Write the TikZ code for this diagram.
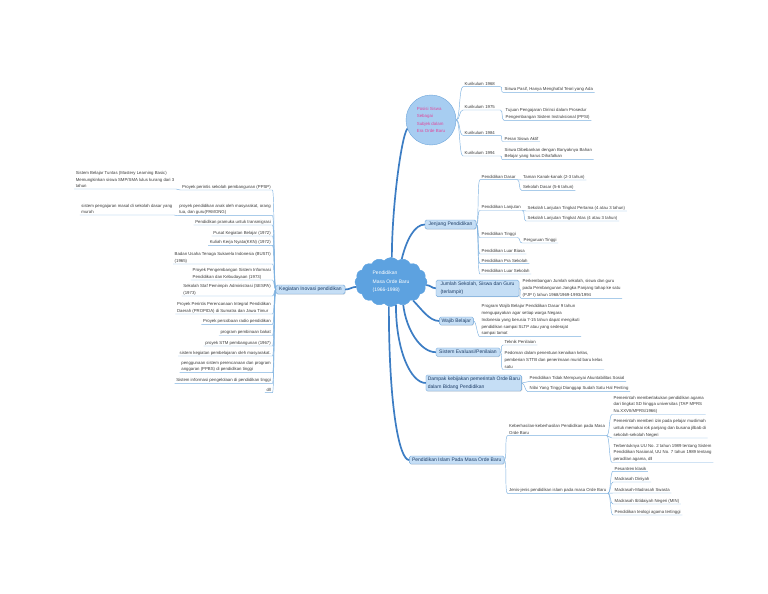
\documentclass[tikz,border=0pt]{standalone}
\usepackage{fontspec}
\setmainfont{Liberation Sans}
\usepackage{xcolor}
\definecolor{mainline}{HTML}{3C7DC4}
\definecolor{subline}{HTML}{7DB1E0}
\definecolor{boxfill}{HTML}{C5DEF5}
\definecolor{boxdraw}{HTML}{6FA6DA}
\definecolor{cloudfill}{HTML}{5DA2E0}
\definecolor{circfill}{HTML}{A7CDF1}
\definecolor{pinktext}{HTML}{E0489C}
\definecolor{leaftext}{HTML}{3A3A3A}
\definecolor{boxtext}{HTML}{1E3D66}
\usetikzlibrary{shapes.geometric,shapes.symbols,shadows}

\begin{document}
\begin{tikzpicture}[x=1pt, y=-1pt,
    every node/.style={font=\fontsize{4.3}{6.8}\selectfont},
    leaf/.style={text=leaftext, align=left, inner xsep=1.5pt, inner ysep=0.8pt},
    leafr/.style={leaf, anchor=south west},
    leafl/.style={leaf, anchor=south east},
    kurbox/.style={leafr, text width=34pt},
    topic/.style={draw=boxdraw, fill=boxfill, rounded corners=1.5pt, text=boxtext,
                  font=\fontsize{5}{7.7}\selectfont, inner sep=1pt,
                  drop shadow={opacity=0.25, shadow xshift=0.6pt, shadow yshift=-0.6pt}},
    mainc/.style={draw=mainline, line width=1.7pt},
    subc/.style={draw=subline, line width=0.45pt},
    linkr/.style={to path={.. controls +(#1,0) and +(-#1,0) .. (\tikztotarget)}},
    linkr/.default=3,
    linkl/.style={to path={.. controls +(-#1,0) and +(#1,0) .. (\tikztotarget)}},
    linkl/.default=2]
  \useasboundingbox (0,0) rectangle (768,594);
  \fill[white] (0,0) rectangle (768,594);

  \node[cloud, cloud puffs=16, cloud puff arc=100, aspect=1.5, fill=cloudfill, draw=cloudfill,
        minimum width=72pt, minimum height=49pt, inner sep=0pt, text=white, align=left,
        font=\fontsize{5}{8.3}\selectfont] (cloud) at (391,282) {Pendidikan\\Masa Orde Baru\\(1966-1998)};
  \node[circle, draw=boxdraw, fill=circfill, minimum size=50pt, inner sep=0pt, text=pinktext,
        align=left, font=\fontsize{4.4}{7.2}\selectfont] (posisi) at (431,120) {Posisi Siswa\\Sebagai\\Subjek dalam\\Era Orde Baru};

  \node[topic, minimum width=51pt, minimum height=9pt] (jenjang) at (450.5,224.5) {Jenjang Pendidikan};
  \node[topic, align=left, minimum width=83pt, minimum height=16.5pt] (jumlah) at (477.5,288.3) {Jumlah Sekolah, Siswa dan Guru\\(terlampir)};
  \node[topic, minimum width=34pt, minimum height=8pt] (wajib) at (456.3,321) {Wajib Belajar};
  \node[topic, minimum width=64pt, minimum height=8.5pt] (evaluasi) at (468,352.2) {Sistem Evaluasi/Penilaian};
  \node[topic, align=left, minimum width=95.7pt, minimum height=16pt] (dampak) at (473.8,383) {Dampak kebijakan pemerintah Orde Baru\\dalam Bidang Pendidikan};
  \node[topic, minimum width=94.7pt, minimum height=8pt] (islam) at (456.7,460) {Pendidikan Islam Pada Masa Orde Baru};
  \node[topic, minimum width=69pt, minimum height=9pt] (inovasi) at (310.5,289.5) {Kegiatan Inovasi pendidikan};

  \node[kurbox] (kur68) at (463,86.7) {Kurikulum 1968};
  \node[kurbox] (kur75) at (463,110) {Kurikulum 1975};
  \node[kurbox] (kur84) at (463,135.3) {Kurikulum 1984};
  \node[kurbox] (kur94) at (463,156) {Kurikulum 1994};
  \node[leafr] (k68a) at (503,92.3) {Siswa Pasif, Hanya Menghafal Teori yang Ada};
  \node[leafr] (k75a) at (504,120.3) {Tujuan Pengajaran Dirinci dalam Prosedur\\Pengembangan Sistem Instruksional (PPSI)};
  \node[leafr] (k84a) at (503,141.5) {Peran Siswa Aktif};
  \node[leafr] (k94a) at (503,159.7) {Siswa Dibebankan dengan Banyaknya Bahan\\Belajar yang harus Dihafalkan};

  \node[leafr] (pdasar) at (480,179.7) {Pendidikan Dasar};
  \node[leafr] (tk) at (521.5,180) {Taman Kanak-kanak (2-3 tahun)};
  \node[leafr] (sd) at (521.5,190.3) {Sekolah Dasar (5-6 tahun)};
  \node[leafr] (planjut) at (480,210.5) {Pendidikan Lanjutan};
  \node[leafr] (sltp) at (526,211) {Sekolah Lanjutan Tingkat Pertama (4 atau 3 tahun)};
  \node[leafr] (slta) at (526,221) {Sekolah Lanjutan Tingkat Atas (4 atau 3 tahun)};
  \node[leafr] (ptinggi) at (480,237.5) {Pendidikan Tinggi};
  \node[leafr] (pt) at (522,243) {Perguruan Tinggi};
  \node[leafr] (plb) at (480,254) {Pendidikan Luar Biasa};
  \node[leafr] (pps) at (480,263.7) {Pendidikan Pra Sekolah};
  \node[leafr] (pls) at (480,274) {Pendidikan Luar Sekolah};

  \node[leafr] (jumlaha) at (521,298.3) {Perkembangan Jumlah sekolah, siswa dan guru\\pada Pembangunan Jangka Panjang tahap ke satu\\(PJP I) tahun 1968/1969-1993/1994};
  \node[leafr] (wajiba) at (480,336.7) {Program Wajib Belajar Pendidikan Dasar 9 tahun\\mengupayakan agar setiap warga Negara\\Indonesia yang berusia 7-15 tahun dapat mengikuti\\pendidikan sampai SLTP atau yang sederajat\\sampai tamat};
  \node[leafr] (teknik) at (503,345) {Teknik Penilaian};
  \node[leafr] (pedoman) at (503,369.5) {Pedoman dalam penentuan kenaikan kelas,\\pemberian STTB dan penerimaan murid baru kelas\\satu};
  \node[leafr] (akunt) at (528,381.7) {Pendidikan Tidak Mempunyai Akuntabilitas Sosial};
  \node[leafr] (nilai) at (528,391.7) {Nilai Yang Tinggi Dianggap Sudah Satu Hal Penting};

  \node[leafr] (berhasil) at (507.5,435.7) {Keberhasilan-keberhasilan Pendidikan pada Masa\\Orde Baru};
  \node[leafr] (jenis) at (507.5,493.3) {Jenis-jenis pendidikan islam pada masa Orde Baru};
  \node[leafr] (b1) at (612,414.5) {Pemerintah memberlakukan pendidikan agama\\dari tingkat SD hingga universitas (TAP MPRS\\No.XXVII/MPRS/1966)};
  \node[leafr] (b2) at (612,438) {Pemerintah memberi izin pada pelajar muslimah\\untuk memakai rok panjang dan busana jilbab di\\sekolah-sekolah Negeri};
  \node[leafr] (b3) at (612,462.5) {Terbentuknya UU No. 2 tahun 1989 tentang Sistem\\Pendidikan Nasional, UU No. 7 tahun 1989 tentang\\peradilan agama, dll};
  \node[leafr] (j1) at (613,471.3) {Pesantren klasik};
  \node[leafr] (j2) at (613,482) {Madrasah Diniyah};
  \node[leafr] (j3) at (613,493) {Madrasah-Madrasah Swasta};
  \node[leafr] (j4) at (613,504) {Madrasah Ibtidaiyah Negeri (MIN)};
  \node[leafr] (j5) at (613,515) {Pendidikan teologi agama tertinggi};

  \node[leafl] (i1) at (272.5,190) {Proyek perintis sekolah pembangunan (PPSP)};
  \node[leafl] (i1a) at (176,189) {Sistem Belajar Tuntas (Mastery Learning Basic)\\Memungkinkan siswa SMP/SMA lulus kurang dari 3\\tahun};
  \node[leafl] (i2) at (272.5,215.7) {proyek pendidikan anak oleh masyarakat, orang\\tua, dan guru(PAMONG)};
  \node[leafl] (i2a) at (174,215) {sistem pengajaran masal di sekolah dasar yang\\murah};
  \node[leafl] (i3) at (272.5,225) {Pendidikan pramuka untuk transmigrasi};
  \node[leafl] (i4) at (272.5,236) {Pusat Kegiatan Belajar (1972)};
  \node[leafl] (i5) at (272.5,245.3) {Kuliah Kerja Nyata(KKN) (1972)};
  \node[leafl] (i6) at (272.5,264) {Badan Usaha Tenaga Sukarela Indonesia (BUSTI)\\(1965)};
  \node[leafl] (i7) at (272.5,280) {Proyek Pengembangan Sistem Informasi\\Pendidikan dan Kebudayaan (1973)};
  \node[leafl] (i8) at (272.5,296) {Sekolah Staf Pemimpin Administrasi (SESPA)\\(1973)};
  \node[leafl] (i9) at (272.5,314) {Proyek Perintis Perencanaan Integral Pendidikan\\Daerah (PROPIDA) di Sumatra dan Jawa Timur};
  \node[leafl] (i10) at (272.5,324.3) {Proyek percobaan radio pendidikan};
  \node[leafl] (i11) at (272.5,335.5) {program pembinaan bakat};
  \node[leafl] (i12) at (272.5,346) {proyek STM pembangunan (1967)};
  \node[leafl] (i13) at (272.5,356) {sistem kegiatan pembelajaran oleh masyarakat.};
  \node[leafl] (i14) at (272.5,372.7) {penggunaan sistem perencanaan dan program\\anggaran (PPBS) di pendidikan tinggi};
  \node[leafl] (i15) at (272.5,383.3) {Sistem informasi pengelolaan di pendidikan tinggi};
  \node[leafl] (i16) at (272.5,392.7) {dll};

  \draw[mainc] (cloud.88) .. controls +(0,-50) and +(-6,8) .. (posisi.200);
  \draw[mainc] (cloud.65) .. controls +(5,-20) and +(-10,0) .. (jenjang.west);
  \draw[mainc] (cloud.-5) .. controls +(4,0) and +(-4,0) .. (jumlah.west);
  \draw[mainc] (cloud.-40) .. controls +(8,8) and +(-10,0) .. (wajib.west);
  \draw[mainc] (cloud.-62) .. controls +(3,25) and +(-15,0) .. (evaluasi.west);
  \draw[mainc] (cloud.-78) .. controls +(0,45) and +(-15,0) .. (dampak.west);
  \draw[mainc] (cloud.-95) .. controls +(0,100) and +(-10,0) .. (islam.west);
  \draw[mainc] (cloud.188) .. controls +(-5,0) and +(5,0) .. (inovasi.east);

  \foreach \c in {kur68,kur75,kur84,kur94}
    \draw[subc] (posisi.east) to[linkr=4] (\c.south west) -- (\c.south east);
  \foreach \p/\c in {kur68/k68a,kur75/k75a,kur84/k84a,kur94/k94a,pdasar/tk,pdasar/sd,planjut/sltp,planjut/slta,ptinggi/pt,berhasil/b1,berhasil/b2,berhasil/b3,jenis/j1,jenis/j2,jenis/j3,jenis/j4,jenis/j5}
    \draw[subc] (\p.south east) to[linkr] (\c.south west) -- (\c.south east);
  \foreach \c in {pdasar,planjut,ptinggi,plb,pps,pls}
    \draw[subc] (jenjang.east) to[linkr] (\c.south west) -- (\c.south east);
  \foreach \p/\c in {jumlah/jumlaha,wajib/wajiba,evaluasi/teknik,evaluasi/pedoman,dampak/akunt,dampak/nilai,islam/berhasil,islam/jenis}
    \draw[subc] (\p.east) to[linkr] (\c.south west) -- (\c.south east);
  \foreach \c in {i1,i2,i3,i4,i5,i6,i7,i8,i9,i10,i11,i12,i13,i14,i15,i16}
    \draw[subc] (inovasi.west) to[linkl] (\c.south east) -- (\c.south west);
  \foreach \p/\c in {i1/i1a,i2/i2a}
    \draw[subc] (\p.south west) to[linkl] (\c.south east) -- (\c.south west);
\end{tikzpicture}
\end{document}
